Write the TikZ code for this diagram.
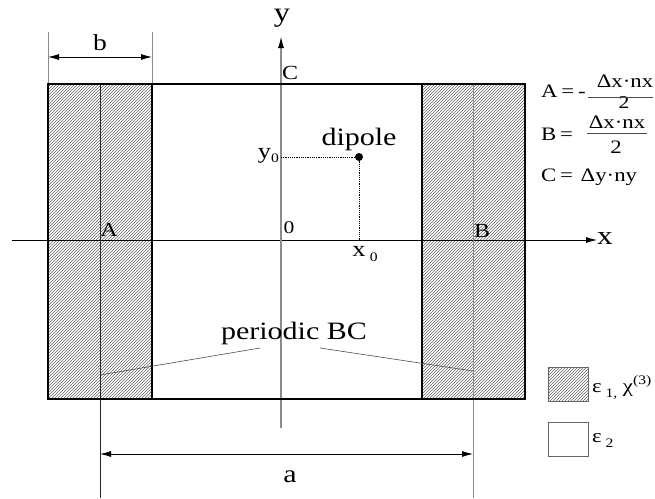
\documentclass[tikz,border=0pt]{standalone}
\usepackage{fontspec}
\setmainfont{Liberation Serif}
\usetikzlibrary{patterns,arrows.meta}
\newcommand\hs[1]{\scalebox{1.2}[1]{#1}}
\begin{document}
\begin{tikzpicture}[x=1pt,y=-1pt,
  txt/.style={inner sep=0pt, font=\fontsize{#1}{#1}\selectfont},
  hatch/.style={pattern=north east lines, pattern color=black!60},
  frame/.style={line width=2.6pt, line cap=rect},
  darkline/.style={line width=0.8pt, draw=black!85},
  grayline/.style={line width=0.8pt, draw=black!45},
  axisline/.style={line width=0.8pt},
  tip/.style={-{Latex[length=11pt,width=6pt,black]}},
  dim/.style={line width=0.8pt, {Latex[length=11pt,width=6pt]}-{Latex[length=11pt,width=6pt]}},
  guide/.style={line width=0.6pt, dash pattern=on 1.2pt off 1pt},
  leader/.style={line width=0.6pt, draw=black!70}]
\useasboundingbox (0,0) rectangle (655,498);
% corner coordinates
\coordinate (TL) at (48,84);   \coordinate (TR) at (525,84);
\coordinate (BL) at (48,399);  \coordinate (BR) at (525,399);
\coordinate (LIt) at (152,84); \coordinate (LIb) at (152,399);
\coordinate (RIt) at (422,84); \coordinate (RIb) at (422,399);
\coordinate (At) at (100,84);  \coordinate (Ab) at (100,498);
\coordinate (Bt) at (473,84);  \coordinate (Bb) at (473,498);
\coordinate (b1) at (48,32);   \coordinate (b2) at (152,32);
\coordinate (ybot) at (281,428); \coordinate (ytop) at (281,37);
\coordinate (ymid) at (281,47);
\coordinate (xl) at (12,240);  \coordinate (xr) at (597,240);
% hatched strips
\fill[hatch] (TL) rectangle (LIb);
\fill[hatch] (RIt) rectangle (BR);
% axes
\draw[axisline, tip] (xl) -- (xr);
\draw[line width=1.6pt, draw=black!45] (ybot) -- (ymid);
\draw[line width=0.8pt, draw=black, tip] (ymid) -- (ytop);
% A and B lines with extensions
\draw[darkline] (At) -- (Ab);
\draw[grayline] (Bt) -- (Bb);
% b extension lines
\draw[grayline] (b1) -- (TL);
\draw[grayline] (b2) -- (LIt);
% frame
\draw[frame] (TL) rectangle (BR);
\draw[frame] (LIt) -- (LIb);
\draw[frame] (RIt) -- (RIb);
% dimensions
\coordinate (bd1) at (48,57);  \coordinate (bd2) at (152,57);
\draw[dim] (bd1) -- (bd2);
\coordinate (ad1) at (100,454); \coordinate (ad2) at (473,454);
\draw[dim] (ad1) -- (ad2);
\node[txt=23] (blab) at (100,43) {\hs{b}};
\node[txt=25] (alab) at (290,477) {\hs{a}};
% dipole
\node[circle, fill, inner sep=0pt, minimum size=8pt] (dip) at (359,157) {};
\coordinate (y0p) at (281,157);
\coordinate (x0p) at (359,240);
\draw[guide] (y0p) -- (dip.center);
\draw[guide] (dip.center) -- (x0p);
\node[txt=25] (diplab) at (359,139) {\hs{dipole}};
\node[txt=22, anchor=east] (y0lab) at (279,156) {\hs{y\raisebox{-4pt}{\fontsize{13}{13}\selectfont 0}}};
\node[txt=22] (x0lab) at (365,254) {\hs{x\,\raisebox{-5pt}{\fontsize{13}{13}\selectfont 0}}};
% axis labels
\node[txt=27] (ylab) at (282,18) {\hs{y}};
\node[txt=26, anchor=west] (xlab) at (597,239) {\hs{x}};
\node[txt=20] (Clab) at (290,73) {\hs{C}};
\node[txt=20] (Alab) at (109,230) {\hs{A}};
\node[txt=20] (Blab) at (482,231) {\hs{B}};
\node[txt=18] (Olab) at (289,228) {\hs{0}};
% periodic BC
\node[txt=25] (pbc) at (294,333) {\hs{periodic BC}};
\coordinate (pl1) at (100,375); \coordinate (pl2) at (260,348);
\coordinate (pr1) at (320,348); \coordinate (pr2) at (473,371);
\draw[leader] (pl1) -- (pl2);
\draw[leader] (pr1) -- (pr2);
% equations
\node[txt=19, anchor=west] (eqA) at (541,91) {\hs{A\,=\,-}};
\node[txt=19] (eqAn) at (625,81) {\hs{Δx·nx}};
\node[txt=18] (eqAd) at (624,103) {\hs{2}};
\coordinate (fa1) at (588,97); \coordinate (fa2) at (653,97);
\draw[line width=0.6pt, draw=black!70] (fa1) -- (fa2);
\node[txt=19, anchor=west] (eqB) at (541,134) {\hs{B\,=}};
\node[txt=19] (eqBn) at (617,122) {\hs{Δx·nx}};
\node[txt=19] (eqBd) at (616,147) {\hs{2}};
\coordinate (fb1) at (587,133); \coordinate (fb2) at (647,133);
\draw[line width=0.6pt, draw=black!70] (fb1) -- (fb2);
\node[txt=19, anchor=west] (eqC) at (541,177) {\hs{C\,=\,\,Δy·ny}};
% legend
\draw[line width=0.8pt, draw=black!60, hatch] (548,367) rectangle (588,401);
\node[draw=black!60, line width=0.8pt, minimum width=40pt, minimum height=34pt, anchor=north west, inner sep=0pt] (leg2) at (548,422) {};
\node[txt=19, anchor=west] (leg1lab) at (592,387) {\hs{ε\,\raisebox{-5pt}{\fontsize{13}{13}\selectfont 1,} χ\raisebox{8pt}{\fontsize{13}{13}\selectfont (3)}}};
\node[txt=19, anchor=west] (leg2lab) at (592,441) {\hs{ε\,\raisebox{-5pt}{\fontsize{13}{13}\selectfont 2}}};
\end{tikzpicture}
\end{document}
